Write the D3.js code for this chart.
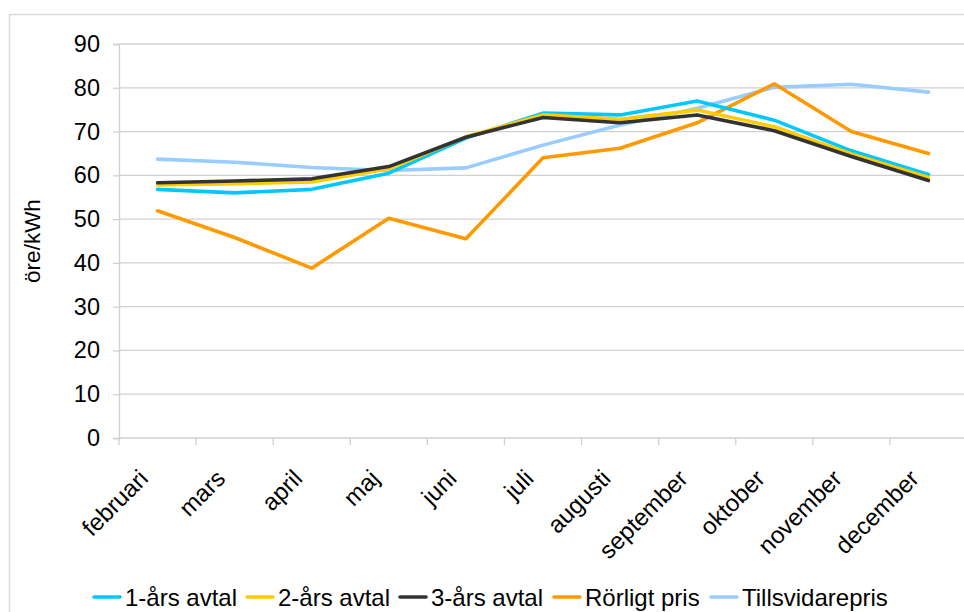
<!DOCTYPE html>
<html>
<head>
<meta charset="utf-8">
<script src="https://cdn.jsdelivr.net/npm/d3@7"></script>
<style>
  html, body { margin: 0; padding: 0; background: #fff; }
  svg { display: block; font-family: "Liberation Sans", Arial, sans-serif; }
</style>
</head>
<body>
<svg id="chart" width="964" height="612"></svg>
<script>
// Monthly electricity prices (öre/kWh) by contract type
const months = ["februari", "mars", "april", "maj", "juni", "juli", "augusti",
  "september", "oktober", "november", "december"];
const yTicks = [0, 10, 20, 30, 40, 50, 60, 70, 80, 90];

const ettAr      = [56.8, 56.0, 56.8, 60.5, 68.5, 74.2, 73.8, 77.0, 72.6, 65.6, 60.2];
const tvaAr      = [57.8, 58.1, 58.5, 61.5, 68.8, 73.8, 72.8, 74.9, 71.1, 64.9, 59.5];
const treAr      = [58.3, 58.7, 59.2, 62.0, 68.7, 73.2, 72.0, 73.8, 70.2, 64.3, 58.8];
const rorligt    = [51.9, 45.8, 38.8, 50.2, 45.5, 64.0, 66.2, 72.0, 80.9, 70.0, 65.0];
const tillsvidare = [63.7, 63.0, 61.8, 61.1, 61.7, 66.9, 71.5, 75.3, 80.1, 80.8, 79.0];

const seriesNames = ["1-års avtal", "2-års avtal", "3-års avtal", "Rörligt pris", "Tillsvidarepris"];
const seriesValues = [ettAr, tvaAr, treAr, rorligt, tillsvidare];
const seriesColors = ["#00c8ff", "#ffcc00", "#333333", "#ff9900", "#99ccff"];

const svg = d3.select("#chart");
const plotLeft = 119, plotRight = 967, plotTop = 44, plotBottom = 438;
const fontSize = 24;

// outer chart frame
svg.append("rect")
  .attr("x", 9.5).attr("y", 14.5)
  .attr("width", 1000).attr("height", 700)
  .attr("fill", "#fff").attr("stroke", "#d9d9d9").attr("stroke-width", 1.5);

const x = d3.scaleBand().domain(months).range([plotLeft, plotRight]);
const y = d3.scaleLinear().domain([0, 90]).range([plotBottom, plotTop]);

// horizontal gridlines
svg.append("g")
  .selectAll("line")
  .data(yTicks.filter(d => d > 0))
  .join("line")
  .attr("x1", plotLeft).attr("x2", plotRight)
  .attr("y1", d => y(d)).attr("y2", d => y(d))
  .attr("stroke", "#d0d0d0").attr("stroke-width", 1.3);

// y axis
const yAxis = svg.append("g")
  .attr("transform", `translate(${plotLeft},0)`)
  .call(d3.axisLeft(y).tickValues(yTicks).tickSize(6).tickPadding(13));
yAxis.select(".domain").attr("stroke", "#d0d0d0").attr("stroke-width", 1.3);
yAxis.selectAll(".tick line").attr("stroke", "#d0d0d0").attr("stroke-width", 1.3);
yAxis.selectAll(".tick text")
  .attr("font-size", 23.5).attr("fill", "#000")
  .attr("font-family", "Liberation Sans, Arial, sans-serif");

// x axis with ticks at category boundaries
const boundaries = months.map(m => x(m)).concat([plotRight]);
const xAxisG = svg.append("g");
xAxisG.append("line")
  .attr("x1", plotLeft).attr("x2", plotRight)
  .attr("y1", plotBottom).attr("y2", plotBottom)
  .attr("stroke", "#d0d0d0").attr("stroke-width", 1.3);
xAxisG.selectAll("line.tk")
  .data(boundaries)
  .join("line")
  .attr("class", "tk")
  .attr("x1", d => d).attr("x2", d => d)
  .attr("y1", plotBottom).attr("y2", plotBottom + 7)
  .attr("stroke", "#d0d0d0").attr("stroke-width", 1.3);
xAxisG.selectAll("text")
  .data(months)
  .join("text")
  .attr("transform", d => `translate(${x(d) + x.bandwidth() / 2 - 20},${plotBottom + 30}) rotate(-45)`)
  .attr("text-anchor", "end")
  .attr("dy", "0.71em")
  .attr("font-size", fontSize)
  .attr("fill", "#000")
  .text(d => d);

// y axis title
svg.append("text")
  .attr("transform", `translate(40,241) rotate(-90)`)
  .attr("text-anchor", "middle")
  .attr("font-size", 22.5)
  .attr("fill", "#000")
  .text("öre/kWh");

// series lines
const line = d3.line()
  .x((d, i) => x(months[i]) + x.bandwidth() / 2)
  .y(d => y(d));

const drawOrder = [4, 3, 0, 1, 2];
svg.append("g")
  .selectAll("path")
  .data(drawOrder)
  .join("path")
  .attr("d", i => line(seriesValues[i]))
  .attr("fill", "none")
  .attr("stroke", i => seriesColors[i])
  .attr("stroke-width", 3.6)
  .attr("stroke-linejoin", "round")
  .attr("stroke-linecap", "round");

// legend
const legendX = [94, 247, 400, 554, 711];
const lg = svg.append("g")
  .selectAll("g")
  .data(seriesNames)
  .join("g")
  .attr("transform", (d, i) => `translate(${legendX[i]},597)`);
lg.append("line")
  .attr("x1", 0).attr("x2", 26)
  .attr("y1", 0).attr("y2", 0)
  .attr("stroke", (d, i) => seriesColors[i])
  .attr("stroke-width", 3.6)
  .attr("stroke-linecap", "round");
lg.append("text")
  .attr("x", 31).attr("y", 0)
  .attr("dy", "0.36em")
  .attr("font-size", fontSize)
  .attr("fill", "#000")
  .text(d => d);
</script>
</body>
</html>
